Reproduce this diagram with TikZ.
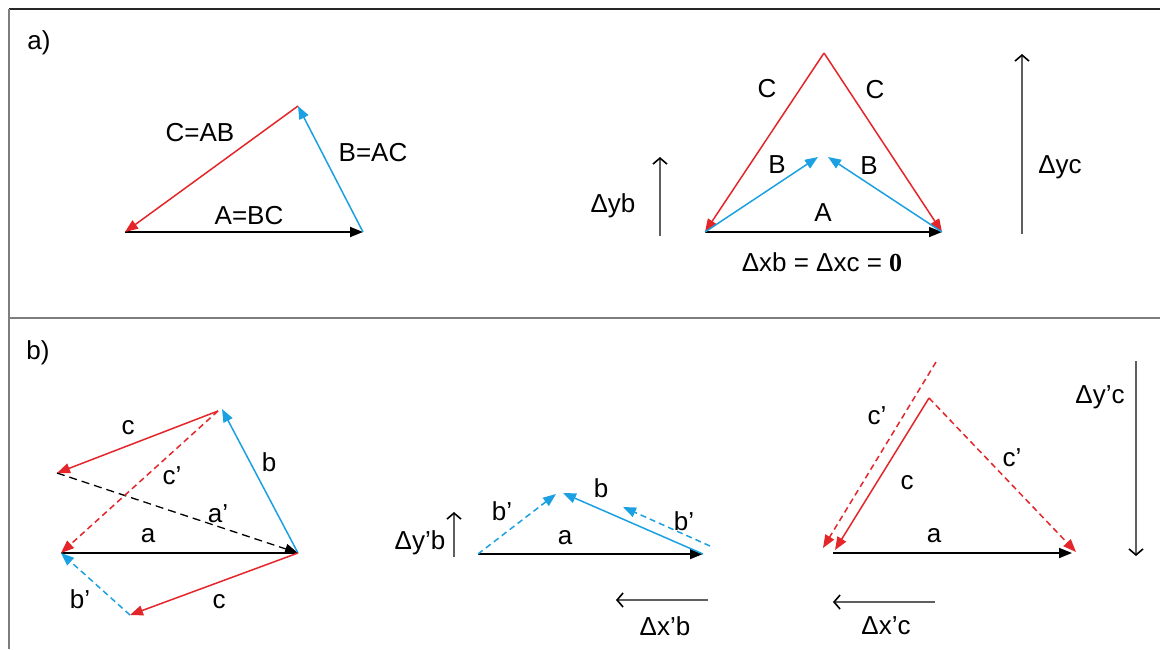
\documentclass[tikz,border=0pt]{standalone}
\usepackage{fontspec}
\setmainfont{Liberation Sans}
\newfontfamily\zerofont{Liberation Serif}
\usetikzlibrary{arrows.meta}
\definecolor{vred}{RGB}{228,38,42}
\definecolor{vblue}{RGB}{27,161,226}
\definecolor{framegray}{RGB}{125,125,125}
\definecolor{axisgray}{RGB}{95,95,95}
\begin{document}
\begin{tikzpicture}[x=1pt,y=-1pt,
  font=\fontsize{26}{30}\selectfont,
  tipped/.style={-{Triangle[length=13pt,width=10pt]}},
  blackv/.style={tipped,draw=black,line width=1.8pt},
  redv/.style={tipped,draw=vred,line width=1.5pt},
  bluev/.style={tipped,draw=vblue,line width=1.5pt},
  dashv/.style={dash pattern=on 6pt off 4pt},
  deltaarrow/.style={draw=axisgray,line width=1.4pt,-{Straight Barb[length=6pt,width=14pt,line width=1.6pt,black]}},
  lbl/.style={inner sep=0pt}]
\useasboundingbox (0,0) rectangle (1160,649);
\fill[white] (0,0) rectangle (1160,649);
% frame
\coordinate (ftl) at (9,9);
\coordinate (ftr) at (1160,9);
\coordinate (fbl) at (9,649);
\coordinate (fml) at (9,318);
\coordinate (fmr) at (1160,318);
\draw[line width=2.4pt,black!85] (ftl) -- (ftr);
\draw[line width=2pt,framegray] (ftl) -- (fbl);
\draw[line width=2pt,framegray] (fml) -- (fmr);

% ---------- panel a ----------
\node[lbl] (alab) at (39,43) {a)};
% left triangle
\coordinate (aL) at (125,232);
\coordinate (aR) at (363,232);
\coordinate (aT) at (298,106);
\draw[blackv] (aL) -- (aR);
\draw[bluev] (aR) -- (aT);
\draw[redv] (aT) -- (aL);
\node[lbl] (lC) at (200,133) {C=AB};
\node[lbl] (lB) at (373,153) {B=AC};
\node[lbl] (lA) at (249,216) {A=BC};
% right triangle
\coordinate (rL) at (705,232);
\coordinate (rR) at (942,232);
\coordinate (rT) at (824,53);
\coordinate (rM1) at (818,157);
\coordinate (rM2) at (828,157);
\draw[blackv] (rL) -- (rR);
\draw[redv] (rT) -- (rL);
\draw[redv] (rT) -- (rR);
\draw[bluev] (rL) -- (rM1);
\draw[bluev] (rR) -- (rM2);
\node[lbl] (rC1) at (767,89) {C};
\node[lbl] (rC2) at (875,90) {C};
\node[lbl] (rB1) at (777,165) {B};
\node[lbl] (rB2) at (869,166) {B};
\node[lbl] (rA) at (823,213) {A};
\node[lbl] (rdx) at (822,262) {Δxb = Δxc = {\zerofont\bfseries 0}};
\coordinate (dyb1) at (660,236);
\coordinate (dyb2) at (660,157);
\draw[deltaarrow] (dyb1) -- (dyb2);
\node[lbl] (dyb) at (613,206) {Δyb};
\coordinate (dyc1) at (1022,234);
\coordinate (dyc2) at (1022,54);
\draw[deltaarrow] (dyc1) -- (dyc2);
\node[lbl] (dyc) at (1060,167) {Δyc};

% ---------- panel b ----------
\node[lbl] (blab) at (38,353) {b)};
% left figure
\coordinate (p1) at (61,553);
\coordinate (p2) at (298,553);
\coordinate (p3) at (222,409);
\coordinate (p3r) at (218,411);
\coordinate (p4) at (57,473);
\coordinate (p5) at (130,615);
\draw[black,line width=1.8pt] (p1) -- (p2);
\draw[tipped,black,line width=1.3pt,dash pattern=on 8pt off 5pt] (p4) -- (p2);
\draw[bluev] (p2) -- (p3);
\draw[redv] (p3r) -- (p4);
\draw[redv,dashv] (p3r) -- (p1);
\draw[redv] (p2) -- (p5);
\draw[bluev,dashv] (p5) -- (p1);
\node[lbl] (pc1) at (128,428) {c};
\node[lbl] (pb) at (269,462) {b};
\node[lbl] (pc2) at (172,476) {c’};
\node[lbl] (pa2) at (218,514) {a’};
\node[lbl] (pa) at (148,536) {a};
\node[lbl] (pb2) at (80,599) {b’};
\node[lbl] (pc3) at (219,602) {c};
% middle figure
\coordinate (m1) at (478,554);
\coordinate (m2) at (703,554);
\coordinate (m3) at (556,494);
\coordinate (m4) at (563,493);
\coordinate (m5) at (710,546);
\coordinate (m6) at (623,507);
\draw[blackv] (m1) -- (m2);
\draw[bluev,dashv] (m1) -- (m3);
\draw[bluev] (m2) -- (m4);
\draw[bluev,dashv] (m5) -- (m6);
\node[lbl] (mb2a) at (502,511) {b’};
\node[lbl] (mb) at (601,488) {b};
\node[lbl] (mb2b) at (684,521) {b’};
\node[lbl] (ma) at (565,538) {a};
\coordinate (dypb1) at (454,557);
\coordinate (dypb2) at (454,512);
\draw[deltaarrow] (dypb1) -- (dypb2);
\node[lbl] (dypb) at (420,543) {Δy’b};
\coordinate (dxpb1) at (708,600);
\coordinate (dxpb2) at (616,600);
\draw[deltaarrow] (dxpb1) -- (dxpb2);
\node[lbl] (dxpb) at (665,626) {Δx’b};
% right figure
\coordinate (n1) at (833,553);
\coordinate (n2) at (1072,553);
\coordinate (n3) at (929,398);
\coordinate (n4) at (835,550);
\coordinate (n5) at (936,362);
\coordinate (n6) at (823,548);
\coordinate (n7) at (1076,552);
\draw[blackv] (n1) -- (n2);
\draw[redv] (n3) -- (n4);
\draw[redv,dashv] (n5) -- (n6);
\draw[redv,dashv] (n3) -- (n7);
\node[lbl] (nc2a) at (877,416) {c’};
\node[lbl] (nc) at (907,483) {c};
\node[lbl] (nc2b) at (1012,458) {c’};
\node[lbl] (na) at (934,536) {a};
\coordinate (dypc1) at (1136,361);
\coordinate (dypc2) at (1136,556);
\draw[deltaarrow] (dypc1) -- (dypc2);
\node[lbl] (dypc) at (1100,397) {Δy’c};
\coordinate (dxpc1) at (935,602);
\coordinate (dxpc2) at (833,602);
\draw[deltaarrow] (dxpc1) -- (dxpc2);
\node[lbl] (dxpc) at (886,626) {Δx’c};
\end{tikzpicture}
\end{document}
